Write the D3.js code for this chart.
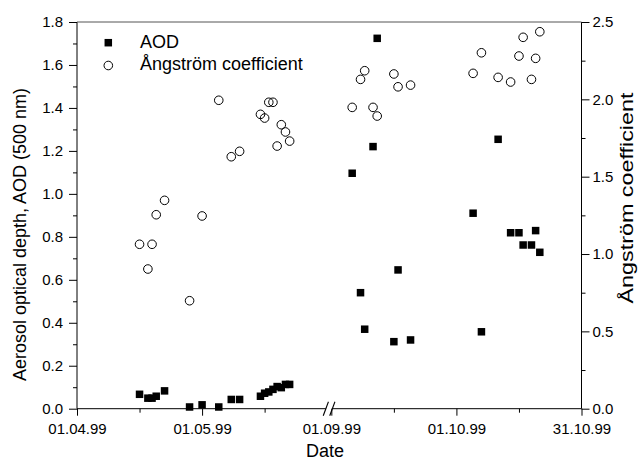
<!DOCTYPE html>
<html><head><meta charset="utf-8">
<script src="https://cdn.jsdelivr.net/npm/d3@7"></script>
<style>
body{margin:0;background:#fff;}
svg{display:block;font-family:"Liberation Sans",Arial,sans-serif;}
</style>
</head><body>
<svg id="chart" width="638" height="462"></svg>
<script>
// ---- data ----
const dates = [
  "16.04.99","18.04.99","19.04.99","20.04.99","22.04.99","28.04.99","01.05.99","05.05.99",
  "08.05.99","10.05.99","15.05.99","16.05.99","17.05.99","18.05.99","19.05.99","20.05.99",
  "21.05.99","22.05.99",
  "06.09.99","08.09.99","09.09.99","11.09.99","12.09.99","16.09.99","17.09.99","20.09.99",
  "05.10.99","07.10.99","11.10.99","14.10.99","16.10.99","17.10.99","19.10.99","20.10.99","21.10.99"
];
const aod = [
  0.067,0.049,0.049,0.058,0.083,0.008,0.018,0.008,
  0.043,0.043,0.058,0.072,0.078,0.090,0.103,0.098,
  0.113,0.113,
  1.096,0.540,0.370,1.220,1.724,0.312,0.646,0.320,
  0.910,0.358,1.254,0.819,0.819,0.762,0.762,0.829,0.728
];
const angstrom = [
  1.063,0.903,1.063,1.254,1.347,0.698,1.246,1.994,
  1.629,1.664,1.903,1.879,1.981,1.981,1.698,1.836,
  1.789,1.730,
  1.948,2.129,2.185,1.948,1.892,2.164,2.081,2.092,
  2.168,2.301,2.142,2.112,2.280,2.401,2.129,2.265,2.437
];
const leftTicks = [0,0.2,0.4,0.6,0.8,1.0,1.2,1.4,1.6,1.8];
const leftMinor = [0.1,0.3,0.5,0.7,0.9,1.1,1.3,1.5,1.7];
const rightTicks = [0,0.5,1.0,1.5,2.0,2.5];
const rightMinor = [0.25,0.75,1.25,1.75,2.25];
const xDomainEdges = ["01.04.99","01.06.99","01.09.99","31.10.99"];
const xTickLabels = ["01.04.99","01.05.99","01.09.99","01.10.99","31.10.99"];
const xMinor = ["16.04.99","16.05.99","16.09.99","16.10.99"];
const seriesNames = ["AOD","Ångström coefficient"];

// ---- layout ----
const L = 77, R = 581.5, T = 22, B = 408.7;
const parse = d3.utcParse("%d.%m.%y");
const fmt = d3.utcFormat("%d.%m.%y");
const edges = xDomainEdges.map(parse);
const d1 = (edges[1]-edges[0]), d2 = (edges[3]-edges[2]);
const BX = L + (R-L)*d1/(d1+d2);
const x = d3.scaleUtc().domain(edges).range([L, BX, BX, R]);
const yL = d3.scaleLinear().domain([0,1.8]).range([B,T]);
const yR = d3.scaleLinear().domain([0,2.5]).range([B,T]);

const svg = d3.select("#chart");
svg.append("rect").attr("width",638).attr("height",462).attr("fill","#fff");

// left axis
const gL = svg.append("g").attr("transform",`translate(${L},0)`);
gL.call(d3.axisLeft(yL).tickValues(leftTicks).tickFormat(d3.format(".1f")).tickSize(8).tickPadding(6).tickSizeOuter(0));
gL.append("g").call(d3.axisLeft(yL).tickValues(leftMinor).tickFormat("").tickSize(4).tickSizeOuter(0));
// right axis
const gR = svg.append("g").attr("transform",`translate(${R},0)`);
gR.call(d3.axisRight(yR).tickValues(rightTicks).tickFormat(d3.format(".1f")).tickSize(8).tickPadding(3).tickSizeOuter(0));
gR.append("g").call(d3.axisRight(yR).tickValues(rightMinor).tickFormat("").tickSize(4).tickSizeOuter(0));
// bottom axis
const gB = svg.append("g").attr("transform",`translate(0,${B})`);
gB.call(d3.axisBottom(x).tickValues(xTickLabels.map(parse)).tickFormat(fmt).tickSize(7).tickPadding(8).tickSizeOuter(0));
gB.append("g").call(d3.axisBottom(x).tickValues(xMinor.map(parse)).tickFormat("").tickSize(4).tickSizeOuter(0));

svg.selectAll(".domain").remove();
svg.selectAll(".tick text").attr("font-size",15).attr("font-family","'Liberation Sans',Arial,sans-serif").attr("fill","#000");
svg.selectAll(".tick line").attr("stroke","#000");

// frame
svg.append("line").attr("x1",L).attr("x2",L).attr("y1",T).attr("y2",B).attr("stroke","#000");
svg.append("line").attr("x1",R).attr("x2",R).attr("y1",T).attr("y2",B).attr("stroke","#000");
svg.append("line").attr("x1",L).attr("x2",R).attr("y1",T).attr("y2",T).attr("stroke","#555");
// bottom axis with break
const s1 = BX-5.5, s2 = BX+1;
svg.append("line").attr("x1",L).attr("x2",s1).attr("y1",B).attr("y2",B).attr("stroke","#000");
svg.append("line").attr("x1",s2).attr("x2",R).attr("y1",B).attr("y2",B).attr("stroke","#000");
[s1,s2].forEach(s=>{
  svg.append("line").attr("x1",s-2.6).attr("y1",B+7).attr("x2",s+2.6).attr("y2",B-7)
    .attr("stroke","#000").attr("stroke-width",1.1);
});

// data
const pts = dates.map((d,i)=>({date:parse(d), a:aod[i], g:angstrom[i]}));
const sq = 7.5;
svg.append("g").selectAll("rect").data(pts).join("rect")
  .attr("x",d=>x(d.date)-sq/2).attr("y",d=>yL(d.a)-sq/2)
  .attr("width",sq).attr("height",sq).attr("fill","#000");
svg.append("g").selectAll("circle").data(pts).join("circle")
  .attr("cx",d=>x(d.date)).attr("cy",d=>yR(d.g)).attr("r",4.3)
  .attr("fill","none").attr("stroke","#000").attr("stroke-width",1);

// legend
svg.append("rect").attr("x",108.3-sq/2).attr("y",42.7-sq/2).attr("width",sq).attr("height",sq).attr("fill","#000");
svg.append("circle").attr("cx",108.3).attr("cy",65.5).attr("r",4.3).attr("fill","none").attr("stroke","#000");
svg.append("text").attr("x",140).attr("y",47.5).attr("font-size",18).text(seriesNames[0]);
svg.append("text").attr("x",140).attr("y",70).attr("font-size",18).text(seriesNames[1]);

// axis titles
svg.append("text").attr("transform","translate(26,234.5) rotate(-90)").attr("text-anchor","middle")
  .attr("font-size",18).text("Aerosol optical depth, AOD (500 nm)");
svg.append("text").attr("transform","translate(633,198) rotate(-90)").attr("text-anchor","middle")
  .attr("font-size",18).attr("textLength",211).attr("lengthAdjust","spacingAndGlyphs").text("Ångström coefficient");
svg.append("text").attr("x",325).attr("y",457).attr("text-anchor","middle").attr("font-size",18).text("Date");
</script>
</body></html>
